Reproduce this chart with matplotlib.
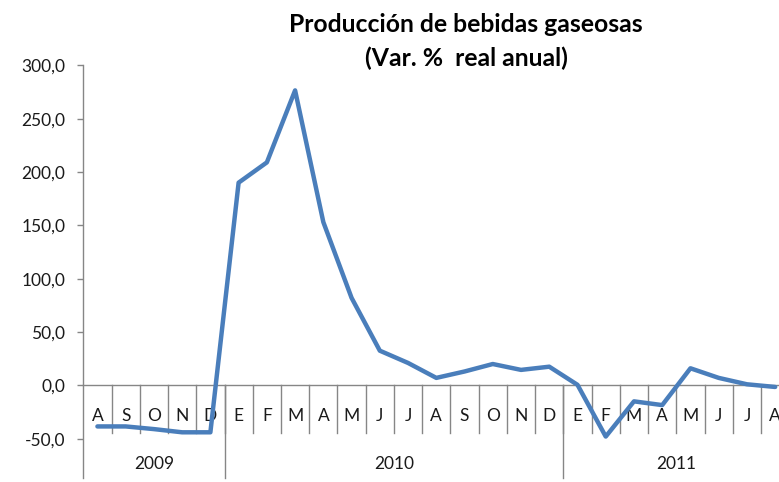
import matplotlib
matplotlib.use("Agg")
import matplotlib.pyplot as plt

months = ["A", "S", "O", "N", "D",
          "E", "F", "M", "A", "M", "J", "J", "A", "S", "O", "N", "D",
          "E", "F", "M", "A", "M", "J", "J", "A"]
years = ["2009", "2010", "2011"]
year_counts = [5, 12, 8]
values = [-38.5, -38.5, -41.0, -44.0, -44.0,
          190.0, 209.0, 276.5, 153.0, 82.0, 32.5, 21.0, 7.0, 13.0, 20.0, 14.5, 17.5,
          0.5, -48.0, -15.0, -18.5, 16.0, 7.0, 1.0, -1.5]
yticks = [-50, 0, 50, 100, 150, 200, 250, 300]
title1 = "Producción de bebidas gaseosas"
title2 = "(Var. %  real anual)"

FONT = "Lato"
GRAY = "#868686"
TXT = "#1a1a1a"

W, H = 779, 482
fig = plt.figure(figsize=(W / 100, H / 100), dpi=100)
ax_left, ax_right = 83.3, 83.3 + 28.24 * 25
ax_top, ax_bot = 65.3, 438.7
ax = fig.add_axes([ax_left / W, (H - ax_bot) / H, (ax_right - ax_left) / W, (ax_bot - ax_top) / H])

n = len(months)
xs = [i + 0.5 for i in range(n)]
ax.plot(xs, values, color="#4A7EBB", lw=3.2, solid_joinstyle="round", solid_capstyle="round",
        zorder=5, clip_on=False)

ax.set_xlim(0, n)
ax.set_ylim(-50, 300)
for s in ax.spines.values():
    s.set_visible(False)
ax.set_xticks([])
ax.set_yticks(yticks)
ax.set_yticklabels([f"{v:.1f}".replace(".", ",") for v in yticks], fontfamily=FONT, fontsize=12.5, color=TXT)
ax.tick_params(axis="y", length=4, width=1, color=GRAY, pad=9)

lw_axis = 1.0
# left axis line (extends through category label area)
ax.plot([0, 0], [300, -87], color=GRAY, lw=lw_axis, clip_on=False, zorder=3)
# horizontal category axis at zero
ax.plot([0, n], [0, 0], color=GRAY, lw=lw_axis, clip_on=False, zorder=3)
# month separators
for i in range(1, n + 1):
    ax.plot([i, i], [0, -44.6], color=GRAY, lw=lw_axis, clip_on=False, zorder=3)
# year separators and labels
start = 0
for y, c in zip(years, year_counts):
    end = start + c
    if end < n:
        ax.plot([end, end], [0, -87], color=GRAY, lw=lw_axis, clip_on=False, zorder=3)
    ax.text((start + end) / 2, -73.8, y, ha="center", va="center", fontfamily=FONT, fontsize=12.5,
            color=TXT, clip_on=False)
    start = end
# month labels
for x, m in zip(xs, months):
    ax.text(x, -28.9, m, ha="center", va="center", fontfamily=FONT, fontsize=12.5, color=TXT,
            clip_on=False, zorder=4)

fig.text(466 / W, 1 - 32.3 / H, title1, ha="center", va="baseline", fontfamily=FONT,
         fontweight="bold", fontsize=17.8, color="black")
fig.text(466 / W, 1 - 65.6 / H, title2, ha="center", va="baseline", fontfamily=FONT,
         fontweight="bold", fontsize=17.8, color="black")

fig.savefig("out.png", dpi=100, facecolor="white")
